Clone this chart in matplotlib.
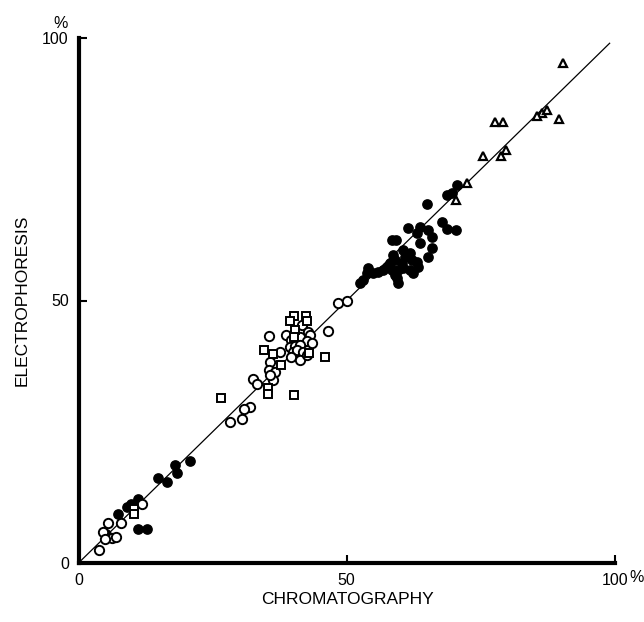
import matplotlib
matplotlib.use("Agg")
import matplotlib.pyplot as plt

plt.rcParams['font.family'] = ['Liberation Sans', 'DejaVu Sans']

# Filled circles
fill_x = [70.5, 68.7, 69.6, 65.0, 67.7, 68.7, 70.4, 61.4, 63.7, 65.1, 63.1, 65.9,
          58.4, 59.2, 63.7, 65.9, 65.1, 60.5, 61.8, 60.9, 62.2, 63.1, 63.3, 58.6,
          59.0, 60.3, 60.5, 59.6, 61.8, 62.4, 58.1, 57.5, 58.4, 56.8, 55.8, 54.9,
          59.0, 59.4, 59.6, 54.0, 53.8, 53.0, 52.5,
          20.8, 18.0, 18.4, 16.5, 14.8, 7.4, 9.0, 9.8, 11.1, 10.9, 11.1, 12.8, 5.1]
fill_y = [72.0, 70.1, 70.5, 68.4, 65.0, 63.6, 63.4, 63.8, 64.0, 63.4, 62.9, 62.1,
          61.5, 61.5, 61.0, 60.0, 58.3, 59.6, 59.1, 58.3, 57.7, 57.3, 56.4, 58.7,
          57.7, 57.2, 56.2, 55.8, 55.8, 55.2, 57.2, 56.4, 55.8, 55.8, 55.4, 55.2,
          54.9, 54.3, 53.3, 56.2, 55.2, 53.9, 53.3,
          19.4, 18.7, 17.1, 15.4, 16.2, 9.3, 10.7, 11.2, 12.2, 11.4, 6.5, 6.5, 5.5]

# Open circles
open_x = [5.5, 7.9, 4.6, 6.2, 7.0, 4.9, 3.8, 11.8,
          48.4, 50.0, 35.5, 38.7, 41.7, 42.8, 46.5, 39.6, 40.4, 41.3, 43.2, 42.6,
          43.5, 39.4, 40.4, 41.3, 40.0, 40.7, 41.8, 39.6, 41.3, 42.6, 37.6, 35.7,
          35.5, 36.6, 36.3, 35.7, 32.5, 33.3, 32.0, 30.9, 30.5, 28.2]
open_y = [7.6, 7.6, 5.9, 4.8, 5.0, 4.6, 2.5, 11.2,
          49.5, 49.9, 43.2, 43.4, 45.3, 44.0, 44.2, 42.5, 42.9, 43.1, 43.4, 42.3,
          41.9, 41.1, 41.3, 41.5, 40.2, 40.6, 40.2, 39.2, 38.7, 39.6, 40.2, 38.3,
          36.8, 36.4, 34.9, 35.8, 35.1, 34.1, 29.7, 29.3, 27.4, 26.9]

# Open squares
sq_x = [10.3, 10.3, 40.2, 42.4, 39.4, 42.6, 40.4, 40.2, 34.6, 36.3, 43.0, 46.0,
        37.7, 35.3, 35.3, 40.2, 26.6]
sq_y = [10.3, 9.3, 47.1, 47.1, 46.1, 46.1, 44.4, 43.1, 40.6, 39.8, 40.0, 39.2,
        37.7, 33.3, 32.2, 32.0, 31.4]

# Open triangles
tri_x = [90.3, 86.4, 87.3, 89.6, 77.6, 79.1, 75.4, 78.8, 79.7, 72.4, 70.4, 85.5]
tri_y = [95.2, 85.7, 86.3, 84.6, 84.0, 84.0, 77.5, 77.5, 78.7, 72.4, 69.1, 85.1]

ticks = [0, 50, 100]
tick_labels = ['0', '50', '100']

fig = plt.figure(figsize=(6.44, 6.22), dpi=100)
ax = fig.add_axes([78.5 / 644, 1 - 563 / 622, 536.5 / 644, 525 / 622])

ax.plot([0.5, 99], [0.5, 99], color='black', lw=0.9, zorder=1)

ms = 6.7
ax.plot(fill_x, fill_y, 'o', ms=ms, color='black', mec='black', zorder=3, clip_on=False)
ax.plot(open_x, open_y, 'o', ms=ms, mfc='white', mec='black', mew=1.4, zorder=3, clip_on=False)
ax.plot(sq_x, sq_y, 's', ms=ms * 0.88, mfc='white', mec='black', mew=1.4, zorder=3, clip_on=False)
ax.plot(tri_x, tri_y, '^', ms=ms * 0.92, mfc='white', mec='black', mew=1.6, zorder=3, clip_on=False)

ax.set_xlim(0, 100)
ax.set_ylim(0, 100)
for s in ['top', 'right']:
    ax.spines[s].set_visible(False)
for s in ['left', 'bottom']:
    ax.spines[s].set_linewidth(3)
ax.set_xticks(ticks)
ax.set_xticklabels(tick_labels)
ax.set_yticks(ticks)
ax.set_yticklabels(tick_labels)
ax.tick_params(direction='in', length=6, width=1.5, labelsize=11.5, pad=7, colors='black')

fig.text(629 / 644, 1 - 578 / 622, '%', ha='left', va='center', fontsize=11.5)
fig.text(61 / 644, 1 - 24 / 622, '%', ha='center', va='center', fontsize=11.5)
fig.text(347 / 644, 1 - 600 / 622, 'CHROMATOGRAPHY', ha='center', va='center', fontsize=12.5)
fig.text(22 / 644, 1 - 300 / 622, 'ELECTROPHORESIS', ha='center', va='center', fontsize=12.5, rotation=90)

fig.savefig('out.png', dpi=100)
